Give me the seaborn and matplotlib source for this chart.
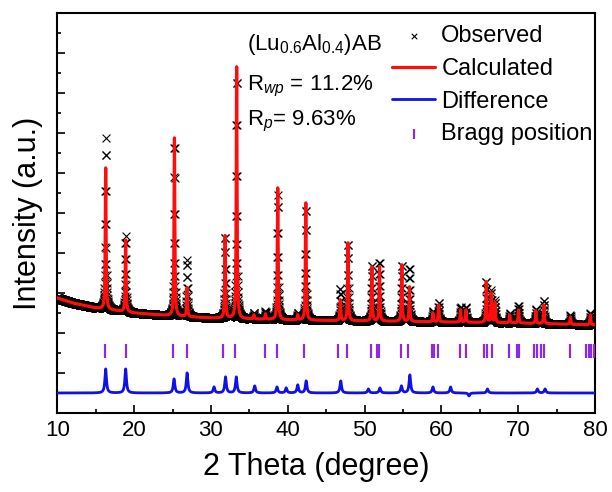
import numpy as np
import pandas as pd
import seaborn as sns
import matplotlib.pyplot as plt
from matplotlib.ticker import MultipleLocator, NullFormatter

# background of the pattern
bg_x = [10, 12, 15, 20, 25, 30, 40, 50, 60, 70, 80]
bg_y = [5.75, 5.5, 5.25, 5.0, 4.85, 4.75, 4.65, 4.6, 4.55, 4.5, 4.4]

# reflections: position, calculated top, observed top
peak_pos = [16.3, 18.9, 25.25, 26.9, 31.85, 33.35, 35.6, 37.1, 38.7, 41.3, 42.35,
            46.85, 47.85, 50.95, 51.95, 54.85, 55.85, 58.9, 59.65, 62.5, 63.2,
            65.85, 66.5, 67.0, 68.9, 70.05, 72.3, 73.35, 76.8, 79.4]
calc_top = [12.25, 8.65, 13.75, 6.25, 8.85, 17.3, 4.9, 4.95, 11.25, 4.9, 10.5,
            5.65, 8.5, 7.3, 7.3, 7.4, 6.3, 5.0, 5.4, 5.15, 5.15,
            6.55, 6.0, 5.5, 4.9, 5.15, 5.1, 5.4, 4.8, 4.9]
obs_top = [13.75, 8.85, 13.5, 7.65, 8.85, 16.8, 5.0, 5.1, 10.9, 5.0, 10.25,
           6.25, 8.5, 7.4, 7.55, 7.4, 7.25, 5.1, 5.5, 5.3, 5.3,
           6.6, 6.1, 5.6, 5.0, 5.35, 5.2, 5.65, 4.9, 5.0]

# difference curve
diff_base = 1.0
diff_pos = [16.3, 18.9, 25.2, 26.9, 30.4, 31.9, 33.3, 35.7, 38.6, 39.8, 41.3, 42.4,
            46.9, 50.5, 52.0, 54.8, 55.9, 58.9, 61.2, 63.6, 66.0, 72.5, 73.5]
diff_h = [1.2, 1.2, 0.7, 1.0, 0.3, 0.8, 0.8, 0.35, 0.3, 0.25, 0.4, 0.6,
          0.6, 0.2, 0.25, 0.35, 0.9, 0.3, 0.3, -0.15, 0.2, 0.2, 0.2]

# Bragg positions
bragg = [16.2, 19.0, 25.1, 26.9, 31.6, 33.2, 37.1, 38.6, 42.1, 46.6, 47.7,
         50.8, 51.6, 51.9, 54.7, 55.6, 58.8, 59.1, 59.6, 62.4, 63.2,
         65.5, 66.0, 66.6, 68.8, 69.9, 70.1, 72.0, 72.5, 73.0, 73.4,
         76.7, 78.8, 79.2, 79.5, 79.9]


def profile(x, pos, amp, w):
    y = np.zeros_like(x)
    for p, a in zip(pos, amp):
        y += a / (1 + ((x - p) / w) ** 2)
    return y


x_calc = np.arange(10, 80.001, 0.01)
x_obs = np.arange(10, 80.001, 0.02)
bg_at_peaks = np.interp(peak_pos, bg_x, bg_y)
calc = np.interp(x_calc, bg_x, bg_y) + profile(x_calc, peak_pos, np.array(calc_top) - bg_at_peaks, 0.06)
obs = np.interp(x_obs, bg_x, bg_y) + profile(x_obs, peak_pos, np.array(obs_top) - bg_at_peaks, 0.06)
diff = diff_base + profile(x_calc, diff_pos, diff_h, 0.12)

sns.set_style("ticks", {"axes.edgecolor": "black", "text.color": "black",
                        "xtick.color": "black", "ytick.color": "black",
                        "axes.labelcolor": "black"})
plt.rcParams['font.family'] = ['Liberation Sans', 'DejaVu Sans']
plt.rcParams['mathtext.fontset'] = 'custom'
plt.rcParams['mathtext.rm'] = 'Liberation Sans'
plt.rcParams['mathtext.it'] = 'Liberation Sans:italic'

fig = plt.figure(figsize=(6.12, 4.92), dpi=100)
ax = fig.add_axes([0.0936, 0.1606, 0.8786, 0.813])

sns.scatterplot(x=x_obs, y=obs, marker='x', s=32, color='black', linewidth=0.8,
                ax=ax, label='Observed', zorder=2)
sns.lineplot(x=x_calc, y=calc, color='#ff0d0d', linewidth=2.3, ax=ax,
             label='Calculated', zorder=3, sort=False, estimator=None)
sns.lineplot(x=x_calc, y=diff, color='#1010e8', linewidth=2.0, ax=ax,
             label='Difference', zorder=3, sort=False, estimator=None)
sns.scatterplot(x=bragg, y=[3.1] * len(bragg), marker='|', s=90, color='#8a2be2',
                linewidth=1.6, ax=ax, label='Bragg position', zorder=3)

ax.set_xlim(10, 80)
ax.set_ylim(0, 20)
ax.xaxis.set_major_locator(MultipleLocator(10))
ax.xaxis.set_minor_locator(MultipleLocator(5))
ax.yaxis.set_major_locator(MultipleLocator(2))
ax.yaxis.set_minor_locator(MultipleLocator(1))
ax.yaxis.set_major_formatter(NullFormatter())
ax.tick_params(which='both', direction='in', width=1.2, labelsize=16, pad=5)
ax.tick_params(which='major', length=6)
ax.tick_params(which='minor', length=3)
for s in ax.spines.values():
    s.set_linewidth(1.5)

ax.set_xlabel('2 Theta (degree)', fontsize=22, labelpad=8)
ax.xaxis.label.set_x(0.482)
ax.set_ylabel('Intensity (a.u.)', fontsize=22, labelpad=5)

ax.text(34.7, 18.15, r'(Lu$_{0.6}$Al$_{0.4}$)AB', fontsize=16, va='baseline')
ax.text(34.7, 16.15, r'R$_{wp}$ = 11.2%', fontsize=16, va='baseline')
ax.text(34.7, 14.4, r'R$_{p}$= 9.63%', fontsize=16, va='baseline')

leg = ax.legend(loc='upper right', bbox_to_anchor=(1.0, 0.975), frameon=False,
                fontsize=17, handlelength=1.85, handletextpad=0.25, labelspacing=0.45,
                borderaxespad=0.0, borderpad=0.1, markerscale=0.7)

fig.savefig('out.png', dpi=100)
